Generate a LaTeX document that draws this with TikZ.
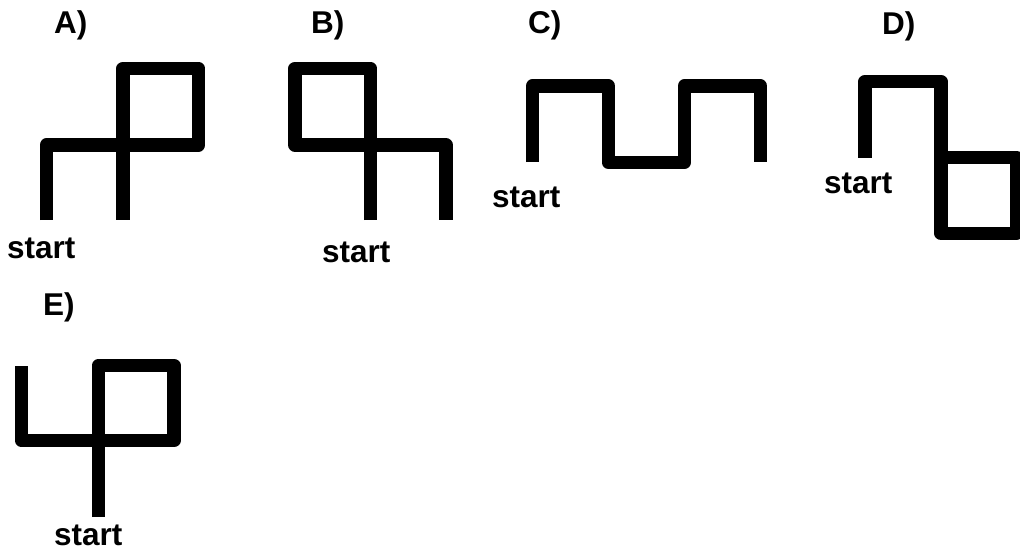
\documentclass[tikz,border=0pt]{standalone}
\usepackage{fontspec}
\setmainfont{Liberation Sans}
\begin{document}
\begin{tikzpicture}[x=1pt,y=-1pt,
  figline/.style={line width=13.5pt, line join=round, line cap=butt},
  lbl/.style={font=\fontsize{31.5}{36}\selectfont\bfseries, inner sep=0pt, anchor=base west}]
\useasboundingbox (0,0) rectangle (1020,550);
% A
\node[lbl] (labA) at (54,33) {A)};
\draw[figline] (46.5,220) -- (46.5,145) -- (198.5,145) -- (198.5,68.5) -- (123,68.5) -- (123,220);
\node[lbl] (startA) at (7,258) {start};
% B
\node[lbl] (labB) at (311,33) {B)};
\draw[figline] (370.5,220) -- (370.5,68.5) -- (295,68.5) -- (295,145) -- (446,145) -- (446,220);
\node[lbl] (startB) at (322,262) {start};
% C
\node[lbl] (labC) at (528,33) {C)};
\draw[figline] (532.5,162) -- (532.5,86) -- (608.3,86) -- (608.3,162.3) -- (684.3,162.3) -- (684.3,86) -- (760.3,86) -- (760.3,162);
\node[lbl] (startC) at (492,207) {start};
% D
\node[lbl] (labD) at (882,34) {D)};
\draw[figline] (865,157.7) -- (865,81.7) -- (941,81.7) -- (941,233.3) -- (1016.5,233.3) -- (1016.5,157.3) -- (941,157.3);
\node[lbl] (startD) at (824,193) {start};
% E
\node[lbl] (labE) at (43,315) {E)};
\draw[figline] (98.5,517) -- (98.5,365.5) -- (174,365.5) -- (174,440.5) -- (21.5,440.5) -- (21.5,366);
\node[lbl] (startE) at (54,545.5) {start};
\end{tikzpicture}
\end{document}
